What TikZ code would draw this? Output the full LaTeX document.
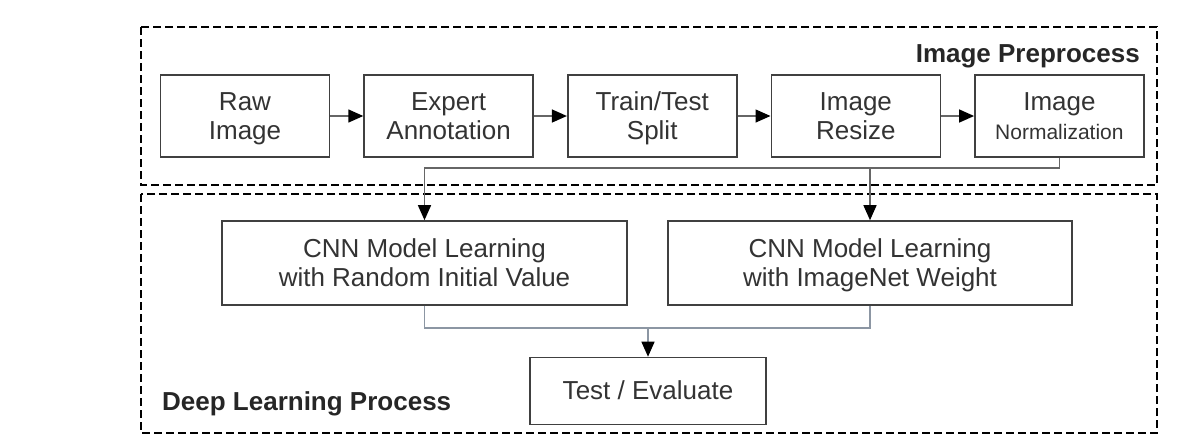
\documentclass[tikz,border=0pt]{standalone}
\usepackage{fontspec}
\setmainfont{Liberation Sans}
\usepackage{xcolor}
\usepackage{tikz}
\usetikzlibrary{arrows.meta,positioning,calc}

\definecolor{linkblue}{HTML}{8C96A3}
\newcommand{\boxstrut}{\rule[-5.6pt]{0pt}{28.9pt}}
\newcommand{\twolines}[2]{\boxstrut#1\\#2\boxstrut}

\begin{document}
\begin{tikzpicture}[x=1pt, y=-1pt,
    box/.style={draw=black!75, line width=1.6pt, minimum width=169pt, minimum height=82pt,
        align=center, text=black!80, font=\fontsize{26}{29}\selectfont, inner sep=0pt},
    group/.style={draw=black, line width=2.4pt, dash pattern=on 8pt off 4pt},
    link/.style={draw=black!60, line width=1.4pt},
    flow/.style={-{Triangle[length=15pt,width=13pt,color=black]}},
    title/.style={font=\fontsize{26}{29}\selectfont\bfseries, text=black!85, inner sep=0pt}]
\useasboundingbox (0,0) rectangle (1178,440);

% frames
\draw[group] (141,27) rectangle (1157,185);
\draw[group] (141,194) rectangle (1157,433);
\node[title, anchor=base east] (pretitle) at (1140,62) {Image Preprocess};
\node[title, anchor=base west] (dltitle) at (162,410) {Deep Learning Process};

% preprocessing row
\node[box] (raw) at (245,116) {\twolines{Raw}{Image}};
\node[box, right=33pt of raw] (annot) {\twolines{Expert}{Annotation}};
\node[box, right=33pt of annot] (split) {\twolines{Train/Test}{Split}};
\node[box, right=33pt of split] (resize) {\twolines{Image}{Resize}};
\node[box, right=33pt of resize] (norm) {\twolines{Image}{{\fontsize{21}{25}\selectfont Normalization}}};

\draw[link, flow] (raw) -- (annot);
\draw[link, flow] (annot) -- (split);
\draw[link, flow] (split) -- (resize);
\draw[link, flow] (resize) -- (norm);

% learning
\node[box, minimum width=405pt, minimum height=84pt] (cnnrand) at (424.5,263) {\twolines{CNN Model Learning}{with Random Initial Value}};
\node[box, minimum width=404pt, minimum height=84pt] (cnnimnet) at (870,263) {\twolines{CNN Model Learning}{with ImageNet Weight}};
\node[box, minimum width=236pt, minimum height=67pt] (evaluate) at (648,391) {\boxstrut Test / Evaluate};

\coordinate (join) at ($(norm.south)+(0,10)$);
\draw[link, flow] (norm.south) -- (join) -| (cnnrand.north);
\draw[link, flow] (cnnimnet.north |- join) -- (cnnimnet.north);

\coordinate (merge) at ($(cnnrand.south)+(0,22)$);
\draw[link, draw=linkblue] (cnnrand.south) -- (merge) -| (cnnimnet.south);
\draw[link, draw=linkblue, flow] (evaluate.north |- merge) -- (evaluate.north);
\end{tikzpicture}
\end{document}
